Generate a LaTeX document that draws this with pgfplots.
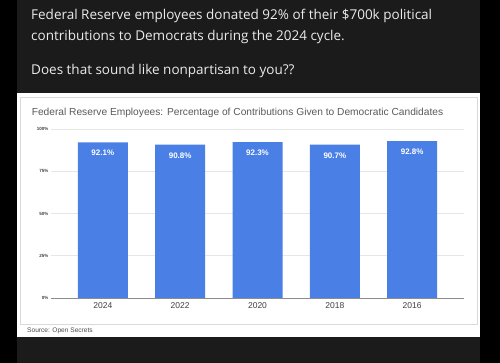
\documentclass[border=0pt]{standalone}
\usepackage{pgfplots}
\pgfplotsset{compat=1.18}
\usepackage{fontspec}
\setmainfont{Liberation Sans}
\newfontfamily\hdr{Open Sans}
\definecolor{panel}{HTML}{1B1B1B}
\definecolor{barblue}{HTML}{4A80E6}
\definecolor{hdrtext}{HTML}{EBEBEB}
\definecolor{titlegray}{HTML}{5A5A5A}
\definecolor{gridgray}{HTML}{E6E6E6}
\begin{document}
\begin{tikzpicture}[x=1pt,y=1pt]
\fill[black] (0,0) rectangle (500,363);
\fill[panel] (17,0) rectangle (480,363);
\fill[white] (17,26) rectangle (480,270);
\draw[black!15, line width=0.8pt] (20,39) rectangle (477,266);
\node[anchor=west, text=hdrtext, inner sep=0pt, font=\hdr\fontsize{13.5}{15}\selectfont] at (31,347) {Federal Reserve employees donated 92\% of their \$700k political};
\node[anchor=west, text=hdrtext, inner sep=0pt, font=\hdr\fontsize{13.5}{15}\selectfont] at (31,326) {contributions to Democrats during the 2024 cycle.};
\node[anchor=west, text=hdrtext, inner sep=0pt, font=\hdr\fontsize{13.5}{15}\selectfont] at (31,292) {Does that sound like nonpartisan to you??};
\node[text=titlegray, inner sep=0pt, font=\fontsize{10.2}{12}\selectfont] at (237.5,250) {Federal Reserve Employees: Percentage of Contributions Given to Democratic Candidates};
\node[anchor=west, text=black!70, inner sep=0pt, font=\fontsize{6.6}{7}\selectfont] at (27,32) {Source: Open Secrets};
\begin{axis}[
  at={(51pt,65pt)}, anchor=south west,
  scale only axis, width=413pt, height=169pt,
  ybar, bar width=50pt,
  xmin=-0.67, xmax=4.67, ymin=0, ymax=100,
  xtick={0,1,2,3,4}, xticklabels={2024,2022,2020,2018,2016},
  ytick={0,25,50,75,100}, yticklabels={0\%,25\%,50\%,75\%,100\%},
  /pgf/number format/assume math mode=true,
  ymajorgrids, grid style={gridgray, line width=0.6pt},
  axis x line*=bottom, axis y line*=left,
  x axis line style={black!45, line width=0.8pt},
  y axis line style={draw=none},
  major tick length=0pt,
  tick label style={text=black!75},
  xticklabel style={font=\fontsize{8.5}{10}\selectfont, yshift=-1pt},
  yticklabel style={font=\bfseries\fontsize{4.5}{5}\selectfont, xshift=1pt},
  nodes near coords={\pgfmathprintnumber[fixed,precision=1,zerofill,assume math mode=true]{\pgfplotspointmeta}\%},
  point meta=y,
  every node near coord/.append style={anchor=north, yshift=-4.5pt, text=white, font=\bfseries\fontsize{8}{9}\selectfont},
]
\addplot[fill=barblue, draw=none] coordinates {(0,92.1) (1,90.8) (2,92.3) (3,90.7) (4,92.8)};
\end{axis}
\end{tikzpicture}
\end{document}
